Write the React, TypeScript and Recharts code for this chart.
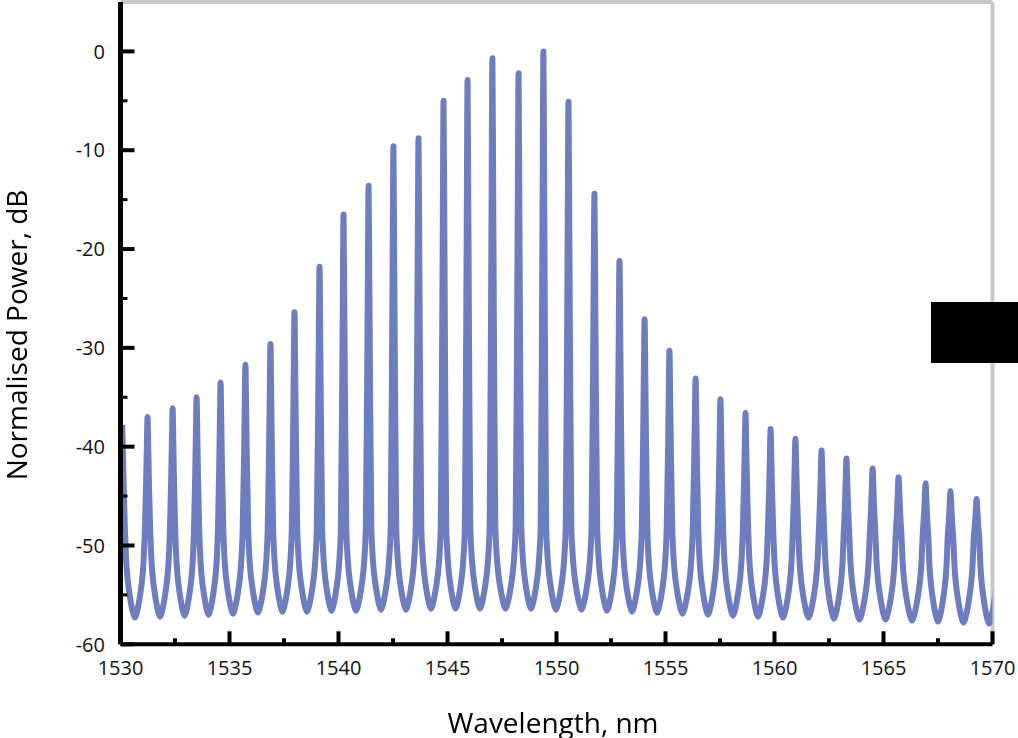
import { LineChart, Line, XAxis, YAxis, ReferenceLine } from 'recharts';

// peak centres of the comb, nm (first and last sit at the plot edges)
const PEAK_NM = [
  1530.08, 1531.24, 1532.39, 1533.49, 1534.59, 1535.73, 1536.88, 1537.98, 1539.13,
  1540.23, 1541.38, 1542.52, 1543.67, 1544.82, 1545.92, 1547.06, 1548.26, 1549.40,
  1550.55, 1551.74, 1552.89, 1554.04, 1555.18, 1556.38, 1557.52, 1558.67, 1559.82,
  1560.96, 1562.16, 1563.30, 1564.50, 1565.69, 1566.93, 1568.07, 1569.27, 1570.42,
];

// peak power, dB
const PEAK_DB = [
  -37.8, -37.0, -36.1, -35.0, -33.5, -31.7, -29.6, -26.4, -21.8,
  -16.5, -13.6, -9.6, -8.8, -5.0, -2.9, -0.7, -2.2, 0,
  -5.1, -14.4, -21.2, -27.1, -30.3, -33.1, -35.2, -36.6, -38.2,
  -39.2, -40.4, -41.2, -42.2, -43.1, -43.7, -44.5, -45.3, -46.0,
];

// floor between neighbouring peaks, dB
const VALLEY_DB = [
  -57.3, -57.2, -57.1, -57.0, -56.9, -56.8, -56.7, -56.7, -56.6, -56.6,
  -56.5, -56.5, -56.4, -56.4, -56.4, -56.4, -56.4, -56.5, -56.5, -56.6,
  -56.7, -56.8, -56.9, -57.0, -57.1, -57.2, -57.3, -57.3, -57.4, -57.5,
  -57.5, -57.6, -57.7, -57.8, -57.9,
];

const SHAPE_OFFSET = [0.85, 0.7, 0.55, 0.4, 0.3, 0.22];
const SHAPE_RISE_DB = [0.5, 1.4, 2.6, 4.2, 6.0, 8.5];
// top of the tooth: share of the way from the shoulder to the peak
const SPIKE_OFFSET = [0.12, 0.06];
const SPIKE_SHARE = [0.4, 0.72];

const X_TICKS = [1530, 1532.5, 1535, 1537.5, 1540, 1542.5, 1545, 1547.5, 1550, 1552.5, 1555, 1557.5, 1560, 1562.5, 1565, 1567.5, 1570];
const Y_TICKS = [-60, -55, -50, -45, -40, -35, -30, -25, -20, -15, -10, -5, 0];

type Pt = { nm: number; db: number };

const buildSide = (k: number, nb: number, dir: number): Pt[] => {
  const gap = Math.abs(PEAK_NM[k] - PEAK_NM[nb]) / 2;
  const floor = VALLEY_DB[Math.min(k, nb)];
  const shoulder = floor + SHAPE_RISE_DB[SHAPE_RISE_DB.length - 1];
  const pts: Pt[] = SHAPE_OFFSET.map((o, i) => ({ nm: PEAK_NM[k] + dir * o * gap, db: floor + SHAPE_RISE_DB[i] }));
  SPIKE_OFFSET.forEach((o, i) => {
    pts.push({ nm: PEAK_NM[k] + dir * o * gap, db: shoulder + SPIKE_SHARE[i] * (PEAK_DB[k] - shoulder) });
  });
  return pts;
};

const data: Pt[] = [];
PEAK_NM.forEach((nm, k) => {
  if (k > 0) data.push(...buildSide(k, k - 1, -1));
  data.push({ nm, db: PEAK_DB[k] });
  if (k < PEAK_NM.length - 1) {
    data.push(...buildSide(k, k + 1, 1).reverse());
    data.push({ nm: (nm + PEAK_NM[k + 1]) / 2, db: VALLEY_DB[k] });
  }
});

const XTick = ({ x, y, payload }: any) => {
  const major = payload.value % 5 === 0;
  return (
    <g>
      <line x1={x} x2={x} y1={y} y2={y - (major ? 13 : 6)} stroke="#000" strokeWidth={4} />
      {major && (
        <text x={x} y={y + 31} textAnchor="middle" fontSize={20} fill="#111" fontFamily='"Open Sans", sans-serif'>
          {payload.value}
        </text>
      )}
    </g>
  );
};

const YTick = ({ x, y, payload }: any) => {
  const major = payload.value % 10 === 0;
  return (
    <g>
      <line x1={x} x2={x + (major ? 14 : 7)} y1={y} y2={y} stroke="#000" strokeWidth={major ? 4 : 3} />
      {major && (
        <text x={x - 15.5} y={y} dy="0.36em" textAnchor="end" fontSize={20} fill="#111" fontFamily='"Open Sans", sans-serif'>
          {payload.value}
        </text>
      )}
    </g>
  );
};

export default function App() {
  return (
    <div style={{ position: 'fixed', left: 0, top: 0, width: 1018, height: 738, background: '#fff', fontFamily: '"Open Sans", sans-serif' }}>
      <LineChart width={1018} height={738} data={data} margin={{ top: 2, right: 25.5, bottom: 0, left: 0 }}>
        <XAxis
          dataKey="nm"
          type="number"
          domain={[1530, 1570]}
          allowDataOverflow
          ticks={X_TICKS}
          interval={0}
          height={93.7}
          tickSize={0}
          tickMargin={0}
          tickLine={false}
          axisLine={{ stroke: '#000', strokeWidth: 4 }}
          tick={(p: any) => <XTick {...p} />}
        />
        <YAxis
          type="number"
          domain={[-60, 5]}
          allowDataOverflow
          ticks={Y_TICKS}
          interval={0}
          width={120.5}
          tickSize={0}
          tickMargin={0}
          tickLine={false}
          axisLine={{ stroke: '#000', strokeWidth: 5 }}
          tick={(p: any) => <YTick {...p} />}
        />
        <ReferenceLine x={1570} stroke="#c8c8c8" strokeWidth={4} />
        <ReferenceLine y={5} stroke="#c8c8c8" strokeWidth={4} />
        <Line
          dataKey="db"
          type="monotone"
          stroke="#6d7dbf"
          strokeWidth={6}
          strokeLinejoin="round"
          dot={false}
          activeDot={false}
          isAnimationActive={false}
        />
      </LineChart>
      <div style={{ position: 'absolute', left: 353, top: 704, width: 400, height: 34, lineHeight: '36px', fontSize: 28, textAlign: 'center', color: '#000' }}>
        Wavelength, nm
      </div>
      <div
        style={{
          position: 'absolute', left: 16 - 200, top: 335 - 16, width: 400, height: 32, lineHeight: '32px',
          fontSize: 28, textAlign: 'center', color: '#000', transform: 'rotate(-90deg)',
        }}
      >
        Normalised Power, dB
      </div>
      <div style={{ position: 'absolute', left: 931, top: 302, width: 87, height: 61, background: '#000' }} />
    </div>
  );
}
